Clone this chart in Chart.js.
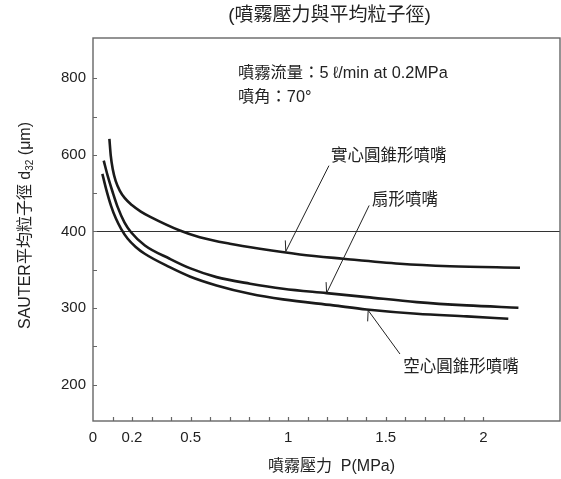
<!DOCTYPE html>
<html>
<head>
<meta charset="utf-8">
<script src="https://cdn.jsdelivr.net/npm/chart.js@4.4.1/dist/chart.umd.min.js"></script>
<style>
html,body{margin:0;padding:0;background:#fff;}
#wrap{width:561px;height:479px;position:relative;}
</style>
</head>
<body>
<div id="wrap"><canvas id="c" width="561" height="479"></canvas></div>
<script>
// ---- data (pressure in MPa, Sauter mean diameter in μm) ----
const pressureSolidCone = [0.084,0.091,0.101,0.116,0.137,0.163,0.199,0.245,0.291,0.445,0.547,0.701,0.855,1.060,1.282,1.573,1.829,2.188];
const sizeSolidCone     = [642,598,563,532,507,487,469,452,439,402.6,392.6,384,377.4,370,364.4,357.9,354.7,352.6];
const pressureFlat      = [0.055,0.075,0.101,0.127,0.161,0.195,0.266,0.393,0.496,0.633,0.805,0.974,1.197,1.402,1.659,1.915,2.180];
const sizeFlat          = [585,546,502.5,463,424,399,381.7,364.4,352.1,340.4,331.8,325.2,319.5,314.3,307.8,303.5,300.5];
const pressureHollow    = [0.048,0.067,0.092,0.118,0.144,0.178,0.219,0.265,0.393,0.496,0.633,0.805,0.974,1.231,1.402,1.659,1.915,2.128];
const sizeHollow        = [550.6,511.4,467.8,433.1,407,390.5,379.8,370.9,353.4,341.3,329.6,318.7,311.3,303.5,298.2,292.6,289.1,286.1];
const referenceLevel    = [400, 400];
const referencePressure = [0, 2.393];
const yTickValues       = [200, 300, 400, 600, 800];
const yMinorValues      = [250, 350, 500, 700];
const xTickValues       = [0,0.1,0.2,0.3,0.4,0.5,0.6,0.7,0.8,0.9,1.0,1.1,1.2,1.3,1.4,1.5,1.6,1.7,1.8,1.9,2.0];
const xLabelValues      = [0, 0.2, 0.5, 1, 1.5, 2];
const seriesNames       = ['實心圓錐形噴嘴', '扇形噴嘴', '空心圓錐形噴嘴'];
const titleText         = '(噴霧壓力與平均粒子徑)';
const noteLines         = ['噴霧流量：5 ℓ/min at 0.2MPa', '噴角：70°'];
const xTitleText        = '噴霧壓力  P(MPa)';

// The printed y axis is piecewise: 200-400 and 400-800 take equal lengths per tick.
function toAxisPos(v){
  return v <= 400 ? (v - 200) / 100 : 2 + (v - 400) / 200;
}
function pts(xs, ys){ return xs.map((x,i)=>({x:x, y:toAxisPos(ys[i])})); }

const LAT = '"Liberation Sans", "Noto Sans CJK TC", Arial, sans-serif';
const INK = '#222';
const AX = '#666';

// leader lines: label anchor -> curve point (data units)
const leaders = [
  {from:[1.209, 572], to:[0.988, 374], barb:-1},
  {from:[1.415, 468], to:[1.197, 319.5], barb:-1},
  {from:[1.573, 240], to:[1.410, 297], barb:1}
];
const labelAnchors = [[1.22, 595], [1.43, 482], [1.59, 222]];

const deco = {
  id:'deco',
  afterDraw(chart){
    const ctx = chart.ctx, a = chart.chartArea;
    const xs = chart.scales.x, ys = chart.scales.y;
    ctx.save();
    // frame
    ctx.strokeStyle = AX; ctx.lineWidth = 1.4;
    ctx.strokeRect(a.left, a.top, a.right - a.left, a.bottom - a.top);
    // inward ticks
    ctx.lineWidth = 1.2;
    ctx.beginPath();
    xTickValues.forEach(v=>{ if(v===0) return; const px = Math.round(xs.getPixelForValue(v))+0.5; ctx.moveTo(px, a.bottom); ctx.lineTo(px, a.bottom-4); });
    yTickValues.concat(yMinorValues).forEach(v=>{ const py = Math.round(ys.getPixelForValue(toAxisPos(v)))+0.5; ctx.moveTo(a.left, py); ctx.lineTo(a.left+4, py); });
    ctx.stroke();
    // leaders
    ctx.strokeStyle = INK; ctx.lineWidth = 1;
    leaders.forEach(l=>{
      const x1 = xs.getPixelForValue(l.from[0]), y1 = ys.getPixelForValue(toAxisPos(l.from[1]));
      const x2 = xs.getPixelForValue(l.to[0]), y2 = ys.getPixelForValue(toAxisPos(l.to[1]));
      ctx.beginPath(); ctx.moveTo(x1,y1); ctx.lineTo(x2,y2);
      ctx.moveTo(x2-0.5, y2 + l.barb*11); ctx.lineTo(x2, y2);
      ctx.stroke();
    });
    // labels
    ctx.fillStyle = INK;
    ctx.textBaseline = 'middle'; ctx.textAlign = 'left';
    ctx.font = '16.5px ' + LAT;
    seriesNames.forEach((n,i)=>{
      const p = labelAnchors[i];
      ctx.fillText(n, xs.getPixelForValue(p[0]), ys.getPixelForValue(toAxisPos(p[1])));
    });
    ctx.font = '16.3px ' + LAT;
    ctx.fillText(noteLines[0], 238, 74);
    ctx.fillText(noteLines[1], 238, 98);
    // title
    ctx.textAlign = 'center';
    ctx.font = '19px ' + LAT;
    ctx.fillText(titleText, (a.left + a.right)/2 + 3, 16);
    // x title
    ctx.font = '16px ' + LAT;
    ctx.fillText(xTitleText, (a.left + a.right)/2 + 5, 467);
    // y title with subscript
    ctx.translate(26, (a.top + a.bottom)/2 - 4);
    ctx.rotate(-Math.PI/2);
    const p1 = 'SAUTER平均粒子徑 d', sub = '32', p3 = ' (μm)';
    ctx.font = '16px ' + LAT; const w1 = ctx.measureText(p1).width, w3 = ctx.measureText(p3).width;
    ctx.font = '10px ' + LAT; const w2 = ctx.measureText(sub).width;
    let x = -(w1+w2+w3)/2;
    ctx.textAlign = 'left';
    ctx.font = '16px ' + LAT; ctx.fillText(p1, x, 0); x += w1;
    ctx.font = '10px ' + LAT; ctx.fillText(sub, x, 4); x += w2;
    ctx.font = '16px ' + LAT; ctx.fillText(p3, x, 0);
    ctx.restore();
  }
};

const curveStyle = {borderColor:'#1a1a1a', borderWidth:2.6, pointRadius:0, fill:false, cubicInterpolationMode:'monotone', borderCapStyle:'butt'};

new Chart(document.getElementById('c'), {
  type:'line',
  data:{ datasets:[
    Object.assign({label:seriesNames[0], data:pts(pressureSolidCone, sizeSolidCone)}, curveStyle),
    Object.assign({label:seriesNames[1], data:pts(pressureFlat, sizeFlat)}, curveStyle),
    Object.assign({label:seriesNames[2], data:pts(pressureHollow, sizeHollow)}, curveStyle),
    {label:'400', data:pts(referencePressure, referenceLevel), borderColor:'#333', borderWidth:1.1, pointRadius:0, fill:false}
  ]},
  options:{
    responsive:false, animation:false,
    layout:{padding:{top:38, right:1, left:0, bottom:0}},
    plugins:{legend:{display:false}, tooltip:{enabled:false}, title:{display:false}},
    scales:{
      x:{ type:'linear', min:0, max:2.393,
        grid:{display:false, drawTicks:false}, border:{display:false},
        afterBuildTicks(s){ s.ticks = xTickValues.map(v=>({value:v})); },
        afterFit(s){ s.height = 58; },
        ticks:{ autoSkip:false, maxRotation:0, padding:8, color:INK, font:{family:LAT, size:15},
          callback(v){ return xLabelValues.some(t=>Math.abs(t-v)<1e-6) ? String(v) : ''; } }
      },
      y:{ type:'linear', min:-0.475, max:4.527,
        grid:{display:false, drawTicks:false}, border:{display:false},
        afterBuildTicks(s){ s.ticks = yTickValues.map(v=>({value:toAxisPos(v)})); },
        afterFit(s){ s.width = 93; },
        ticks:{ autoSkip:false, padding:7, color:INK, font:{family:LAT, size:15},
          callback(v){ const i = yTickValues.findIndex(t=>Math.abs(toAxisPos(t)-v)<1e-6); return i>=0 ? String(yTickValues[i]) : ''; } }
      }
    }
  },
  plugins:[deco]
});
</script>
</body>
</html>
